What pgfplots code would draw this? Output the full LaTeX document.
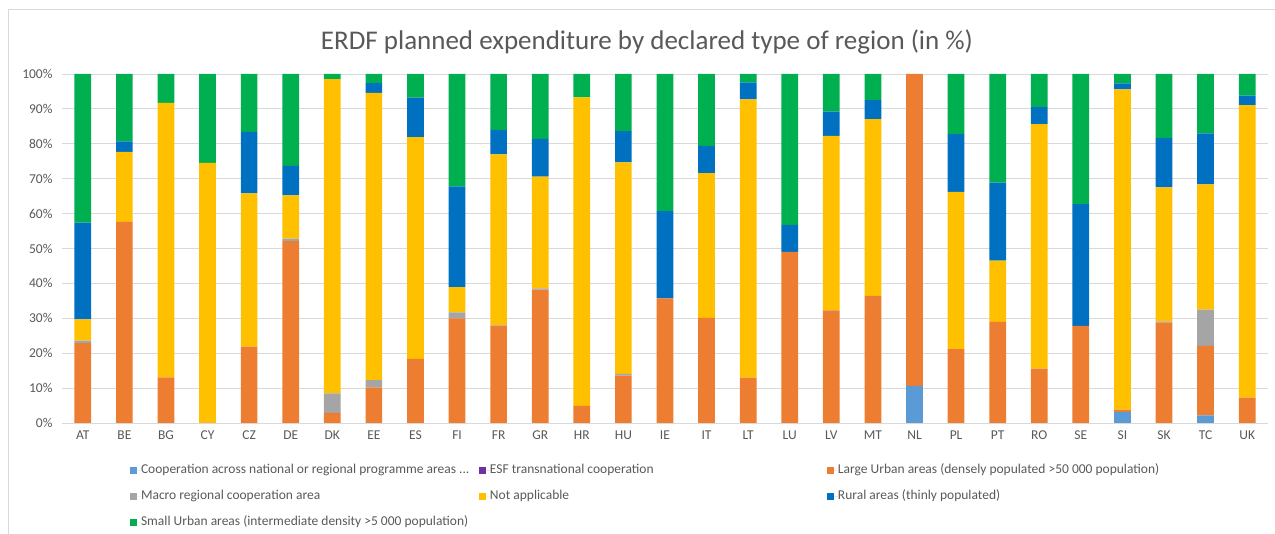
\documentclass[border=0pt]{standalone}
\usepackage{pgfplots}
\pgfplotsset{compat=1.18}
\usepackage{pgfplotstable}
\usepackage{fontspec}
\setmainfont{Carlito}
\definecolor{ccoop}{HTML}{5B9BD5}
\definecolor{cesf}{HTML}{7030A0}
\definecolor{clarge}{HTML}{ED7D31}
\definecolor{cmacro}{HTML}{A5A5A5}
\definecolor{cna}{HTML}{FFC000}
\definecolor{crural}{HTML}{0070C0}
\definecolor{csmall}{HTML}{00B050}
\definecolor{txt}{HTML}{595959}
\definecolor{gridc}{HTML}{D9D9D9}
\pgfplotstableread{
x  coop esf large macro na   rural small
0  0    0   22.9  0.7   6.1  27.7  42.6
1  0    0   57.6  0     20.1 3.0   19.3
2  0    0   13.1  0     78.6 0     8.3
3  0    0   0     0     74.5 0     25.5
4  0    0   21.9  0     43.9 17.6  16.6
5  0    0   52.1  0.7   12.4 8.5   26.3
6  0    0   2.9   5.6   90.0 0     1.5
7  0    0   10.2  2.1   82.3 2.8   2.6
8  0    0   18.4  0     63.5 11.3  6.8
9  0    0   30.0  1.7   7.2  28.9  32.2
10 0    0   27.8  0.2   49.0 7.0   16.0
11 0    0   38.2  0.4   32.0 10.8  18.6
12 0    0   4.9   0     88.4 0     6.7
13 0    0   13.6  0.5   60.6 8.9   16.4
14 0    0   35.7  0     0    25.0  39.3
15 0    0   30.1  0     41.5 7.8   20.6
16 0    0   13.0  0     79.7 4.9   2.4
17 0    0   49.0  0     0    7.8   43.2
18 0    0   32.3  0     50.0 6.9   10.8
19 0    0   36.4  0     50.7 5.4   7.5
20 10.6 0   89.4  0     0    0     0
21 0    0   21.2  0     45.0 16.6  17.2
22 0    0   29.0  0     17.5 22.4  31.1
23 0    0   15.6  0     70.0 4.9   9.5
24 0    0   27.8  0     0    34.9  37.3
25 3.1  0   0.7   0     91.8 1.7   2.7
26 0    0   28.8  0.3   38.4 14.1  18.4
27 2.2  0   19.9  10.4  35.9 14.6  17.0
28 0    0   7.3   0     83.8 2.7   6.2
}\datatable
\begin{document}
\begin{tikzpicture}[x=1pt,y=1pt]
\useasboundingbox (0,0) rectangle (1275,534);
\draw[gridc] (8,-2) -- (8,525) -- (1280,525);
\node[text=txt, font=\fontsize{27}{32}\selectfont] at (647,492) {ERDF planned expenditure by declared type of region (in \%)};
\begin{axis}[
  at={(62pt,111pt)}, anchor=south west,
  width=1206pt, height=349pt, scale only axis,
  ybar stacked, bar width=16.7pt,
  xmin=-0.5, xmax=28.5, ymin=0, ymax=100,
  xtick={0,...,28},
  xticklabels={AT,BE,BG,CY,CZ,DE,DK,EE,ES,FI,FR,GR,HR,HU,IE,IT,LT,LU,LV,MT,NL,PL,PT,RO,SE,SI,SK,TC,UK},
  ytick={0,10,...,100},
  yticklabel={\pgfmathprintnumber{\tick}\%},
  /pgf/number format/assume math mode=true,
  ticklabel style={text=txt, font=\fontsize{13.5}{16}\selectfont},
  xticklabel style={yshift=-4pt},
  yticklabel style={xshift=-6pt},
  major tick length=0pt,
  axis lines*=left,
  y axis line style={draw=none},
  x axis line style={draw=gridc, line width=0.8pt},
  ymajorgrids, grid style={draw=gridc, line width=0.8pt},
  legend columns=3,
  legend cell align=left,
  legend image code/.code={\fill[#1] (0pt,-3.5pt) rectangle (7pt,3.5pt); \path (0pt,0pt) -- (11pt,0pt);},
  legend style={at={(axis description cs:0,0)}, anchor=north west, xshift=68pt, yshift=-41pt,
    draw=none, fill=none, inner sep=0pt, outer sep=0pt,
    /tikz/column sep=0pt, /tikz/row sep=12.5pt,
    nodes={inner sep=0pt, text=txt, font=\fontsize{13.5}{16}\selectfont, text height=10pt, text depth=3.5pt}},
]
\addplot[fill=ccoop, draw=none] table[x=x, y=coop] {\datatable};
\addlegendentry{\makebox[338pt][l]{Cooperation across national or regional programme areas ...}}
\addplot[fill=cesf, draw=none] table[x=x, y=esf] {\datatable};
\addlegendentry{\makebox[337pt][l]{ESF transnational cooperation}}
\addplot[fill=clarge, draw=none] table[x=x, y=large] {\datatable};
\addlegendentry{Large Urban areas (densely populated >50 000 population)}
\addplot[fill=cmacro, draw=none] table[x=x, y=macro] {\datatable};
\addlegendentry{\makebox[338pt][l]{Macro regional cooperation area}}
\addplot[fill=cna, draw=none] table[x=x, y=na] {\datatable};
\addlegendentry{\makebox[337pt][l]{Not applicable}}
\addplot[fill=crural, draw=none] table[x=x, y=rural] {\datatable};
\addlegendentry{Rural areas (thinly populated)}
\addplot[fill=csmall, draw=none] table[x=x, y=small] {\datatable};
\addlegendentry{Small Urban areas (intermediate density >5 000 population)}
\end{axis}
\end{tikzpicture}
\end{document}
